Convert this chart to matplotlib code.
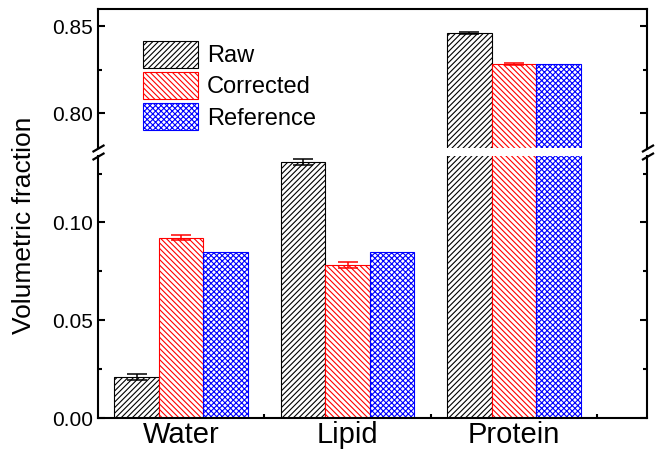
import matplotlib
matplotlib.use('Agg')
import matplotlib.pyplot as plt
import numpy as np
from matplotlib.ticker import MultipleLocator, FormatStrFormatter, FixedLocator
from matplotlib.lines import Line2D

plt.rcParams['font.family'] = ['Liberation Sans', 'DejaVu Sans']
plt.rcParams['hatch.linewidth'] = 0.8

categories = ['Water', 'Lipid', 'Protein']
raw = [0.0208, 0.1309, 0.8464]
raw_err = [0.0015, 0.0015, 0.0006]
corrected = [0.0922, 0.0781, 0.8286]
corrected_err = [0.0013, 0.0015, 0.0006]
reference = [0.0848, 0.0850, 0.8286]

W, H = 655, 454
fig = plt.figure(figsize=(W / 100, H / 100), dpi=100)


def px_axes(left, top, right, bottom):
    return fig.add_axes([left / W, 1 - bottom / H, (right - left) / W, (bottom - top) / H])


ax_hi = px_axes(98, 9, 647, 148)
ax_lo = px_axes(98, 156, 647, 418)

x = np.arange(1, len(categories) + 1)
width = 0.268
series = [
    (raw, raw_err, 'black', '/' * 6, 'Raw'),
    (corrected, corrected_err, 'red', '\\' * 6, 'Corrected'),
    (reference, None, 'blue', 'x' * 6, 'Reference'),
]
offsets = [-width, 0, width]

for ax in (ax_hi, ax_lo):
    for (vals, errs, color, hatch, label), off in zip(series, offsets):
        ax.bar(x + off, vals, width, facecolor='white', edgecolor=color,
               hatch=hatch, linewidth=0.8, label=label, zorder=2)
        if errs is not None:
            ax.errorbar(x + off, vals, yerr=errs, fmt='none', ecolor=color,
                        elinewidth=1.1, capsize=7, capthick=1.1, zorder=3)
    ax.set_xlim(0.5, 3.8)
    for sp in ax.spines.values():
        sp.set_linewidth(1.5)
    ax.yaxis.set_major_locator(MultipleLocator(0.05))
    ax.yaxis.set_minor_locator(MultipleLocator(0.025))
    ax.yaxis.set_major_formatter(FormatStrFormatter('%.2f'))
    ax.tick_params(axis='y', which='both', direction='in', left=True, right=True,
                   width=1.5, labelsize=15, pad=3.5)
    ax.tick_params(axis='y', which='major', length=5)
    ax.tick_params(axis='y', which='minor', length=3)

ax_hi.set_ylim(0.78, 0.86)
ax_lo.set_ylim(0, 0.134)

ax_hi.spines['bottom'].set_visible(False)
ax_lo.spines['top'].set_visible(False)
ax_hi.tick_params(axis='x', which='both', bottom=False, top=False, labelbottom=False)

ax_lo.set_xticks(x, categories)
ax_lo.xaxis.set_minor_locator(FixedLocator([1.5, 2.5, 3.5]))
ax_lo.tick_params(axis='x', which='both', direction='in', top=False, width=1.5,
                  labelsize=21, pad=2)
ax_lo.tick_params(axis='x', which='major', length=5)
ax_lo.tick_params(axis='x', which='minor', length=3)

# axis-break slashes on both vertical spines
for sx in (98, 647.5):
    for dy in (0, 8):
        fig.add_artist(Line2D([(sx - 5.5) / W, (sx + 6.5) / W],
                              [1 - (152 + dy) / H, 1 - (145 + dy) / H],
                              transform=fig.transFigure, color='black',
                              linewidth=1.6, solid_capstyle='butt'))

fig.text(24 / W, 1 - 225 / H, 'Volumetric fraction', rotation=90,
         ha='center', va='center', fontsize=19)

ax_hi.legend(loc='upper left', bbox_to_anchor=(143 / W, 1 - 41 / H),
             bbox_transform=fig.transFigure, frameon=False, fontsize=17,
             handlelength=2.33, handleheight=1.35, handletextpad=0.38,
             labelspacing=0.2, borderpad=0, borderaxespad=0)

fig.savefig('out.png', dpi=100)
